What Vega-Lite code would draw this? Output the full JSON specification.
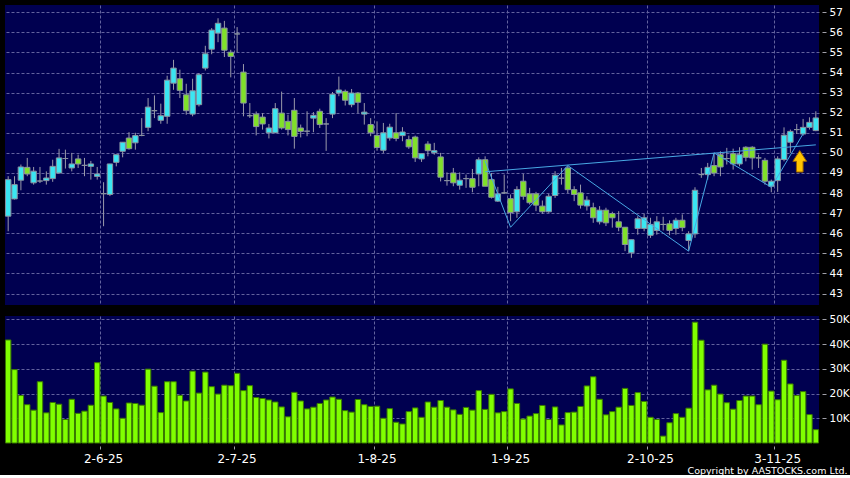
{
  "$schema": "https://vega.github.io/schema/vega-lite/v6.json",
  "background": "#000000",
  "padding": {"left": 4, "top": 5, "right": 0, "bottom": 0},
  "bounds": "flush",
  "spacing": 11,
  "config": {
    "view": {"fill": "#000050", "stroke": null},
    "axis": {
      "gridColor": "#62629e",
      "gridDash": [3, 2],
      "gridWidth": 1,
      "labelColor": "#ffffff",
      "labelFont": "DejaVu Sans",
      "tickColor": "#a0a0a8",
      "domain": false
    }
  },
  "datasets": {
    "ohlc": [
      {"d":"2025-05-12","o":46.85,"h":48.84,"l":46.1,"c":48.67,"v":41.7},
      {"d":"2025-05-13","o":47.71,"h":48.84,"l":47.68,"c":48.42,"v":29.7},
      {"d":"2025-05-14","o":48.64,"h":49.42,"l":48.14,"c":49.3,"v":19.2},
      {"d":"2025-05-15","o":49.28,"h":49.75,"l":48.84,"c":48.95,"v":15.5},
      {"d":"2025-05-16","o":48.51,"h":49.3,"l":48.42,"c":49.09,"v":13.3},
      {"d":"2025-05-19","o":48.6,"h":49.3,"l":48.5,"c":48.6,"v":24.8},
      {"d":"2025-05-20","o":48.62,"h":49.08,"l":48.42,"c":48.75,"v":12.2},
      {"d":"2025-05-21","o":48.72,"h":49.66,"l":48.56,"c":49.33,"v":16.4},
      {"d":"2025-05-22","o":49.0,"h":50.2,"l":48.98,"c":49.75,"v":15.7},
      {"d":"2025-05-23","o":49.72,"h":50.16,"l":49.22,"c":49.72,"v":9.5},
      {"d":"2025-05-26","o":49.25,"h":50.0,"l":49.08,"c":49.45,"v":17.7},
      {"d":"2025-05-27","o":49.7,"h":49.91,"l":49.25,"c":49.45,"v":12.0},
      {"d":"2025-05-28","o":49.38,"h":49.75,"l":48.84,"c":49.38,"v":12.9},
      {"d":"2025-05-29","o":49.33,"h":49.6,"l":48.67,"c":49.45,"v":15.3},
      {"d":"2025-05-30","o":48.83,"h":49.3,"l":48.67,"c":48.95,"v":32.5},
      {"d":"2025-06-02","o":47.97,"h":48.54,"l":46.35,"c":47.97,"v":19.0},
      {"d":"2025-06-03","o":47.93,"h":49.45,"l":47.85,"c":49.45,"v":16.4},
      {"d":"2025-06-04","o":49.53,"h":49.91,"l":49.33,"c":49.91,"v":13.8},
      {"d":"2025-06-05","o":50.08,"h":50.53,"l":49.78,"c":50.53,"v":10.0},
      {"d":"2025-06-06","o":50.74,"h":51.03,"l":50.16,"c":50.21,"v":16.2},
      {"d":"2025-06-09","o":50.5,"h":51.0,"l":50.16,"c":50.86,"v":16.0},
      {"d":"2025-06-10","o":50.87,"h":51.73,"l":50.83,"c":50.87,"v":15.3},
      {"d":"2025-06-11","o":51.27,"h":52.73,"l":51.08,"c":52.28,"v":29.9},
      {"d":"2025-06-12","o":52.1,"h":52.86,"l":51.73,"c":52.1,"v":23.0},
      {"d":"2025-06-13","o":51.62,"h":52.45,"l":51.45,"c":51.85,"v":12.3},
      {"d":"2025-06-16","o":51.82,"h":53.84,"l":51.45,"c":53.62,"v":24.8},
      {"d":"2025-06-17","o":53.47,"h":54.63,"l":53.14,"c":54.22,"v":24.8},
      {"d":"2025-06-18","o":53.69,"h":54.14,"l":52.73,"c":53.11,"v":19.3},
      {"d":"2025-06-19","o":52.89,"h":53.44,"l":51.9,"c":52.1,"v":17.0},
      {"d":"2025-06-20","o":51.93,"h":53.69,"l":51.82,"c":53.09,"v":29.1},
      {"d":"2025-06-23","o":52.4,"h":53.97,"l":52.31,"c":53.89,"v":20.2},
      {"d":"2025-06-24","o":54.22,"h":55.33,"l":54.1,"c":54.93,"v":28.7},
      {"d":"2025-06-25","o":55.16,"h":56.21,"l":54.91,"c":56.11,"v":22.8},
      {"d":"2025-06-26","o":55.96,"h":56.7,"l":55.51,"c":56.45,"v":19.8},
      {"d":"2025-06-27","o":56.21,"h":56.57,"l":54.77,"c":55.11,"v":23.4},
      {"d":"2025-06-30","o":55.01,"h":55.13,"l":53.76,"c":54.8,"v":23.2},
      {"d":"2025-07-02","o":55.92,"h":56.26,"l":55.01,"c":55.92,"v":28.2},
      {"d":"2025-07-03","o":54.02,"h":54.42,"l":51.82,"c":52.48,"v":21.2},
      {"d":"2025-07-04","o":51.85,"h":52.48,"l":51.74,"c":51.85,"v":23.2},
      {"d":"2025-07-07","o":51.93,"h":52.06,"l":50.87,"c":51.31,"v":18.4},
      {"d":"2025-07-08","o":51.78,"h":51.98,"l":51.16,"c":51.44,"v":18.0},
      {"d":"2025-07-09","o":51.0,"h":51.44,"l":50.72,"c":51.24,"v":17.4},
      {"d":"2025-07-10","o":51.0,"h":52.48,"l":51.0,"c":52.2,"v":16.6},
      {"d":"2025-07-11","o":51.98,"h":53.05,"l":51.16,"c":51.24,"v":14.6},
      {"d":"2025-07-14","o":51.57,"h":51.9,"l":50.87,"c":51.16,"v":10.6},
      {"d":"2025-07-15","o":52.12,"h":52.73,"l":50.21,"c":50.82,"v":20.5},
      {"d":"2025-07-16","o":51.24,"h":51.41,"l":50.77,"c":51.07,"v":17.0},
      {"d":"2025-07-17","o":51.08,"h":52.07,"l":50.83,"c":51.08,"v":13.8},
      {"d":"2025-07-18","o":51.73,"h":52.03,"l":51.03,"c":51.87,"v":14.5},
      {"d":"2025-07-21","o":52.07,"h":52.2,"l":51.24,"c":51.41,"v":16.0},
      {"d":"2025-07-22","o":51.44,"h":51.73,"l":50.1,"c":51.44,"v":17.4},
      {"d":"2025-07-23","o":51.93,"h":53.03,"l":51.73,"c":52.92,"v":18.6},
      {"d":"2025-07-24","o":52.98,"h":53.8,"l":52.82,"c":53.13,"v":17.7},
      {"d":"2025-07-25","o":53.06,"h":53.15,"l":52.36,"c":52.62,"v":13.1},
      {"d":"2025-07-28","o":52.4,"h":53.18,"l":52.27,"c":52.98,"v":12.5},
      {"d":"2025-07-29","o":52.98,"h":53.03,"l":51.98,"c":52.52,"v":17.6},
      {"d":"2025-07-30","o":51.93,"h":52.48,"l":51.41,"c":52.03,"v":15.5},
      {"d":"2025-07-31","o":51.41,"h":51.73,"l":50.83,"c":51.0,"v":14.8},
      {"d":"2025-08-01","o":50.87,"h":51.57,"l":50.11,"c":50.27,"v":14.9},
      {"d":"2025-08-04","o":50.13,"h":51.49,"l":50.0,"c":51.0,"v":10.0},
      {"d":"2025-08-05","o":50.74,"h":51.45,"l":50.61,"c":51.28,"v":13.9},
      {"d":"2025-08-06","o":51.0,"h":51.98,"l":50.58,"c":50.72,"v":8.4},
      {"d":"2025-08-07","o":50.86,"h":51.28,"l":50.58,"c":51.04,"v":7.7},
      {"d":"2025-08-08","o":50.66,"h":50.86,"l":50.2,"c":50.3,"v":12.7},
      {"d":"2025-08-11","o":50.79,"h":50.86,"l":49.55,"c":49.75,"v":14.2},
      {"d":"2025-08-12","o":49.7,"h":49.96,"l":49.55,"c":49.96,"v":10.4},
      {"d":"2025-08-13","o":50.44,"h":50.58,"l":49.83,"c":50.11,"v":16.6},
      {"d":"2025-08-14","o":50.01,"h":50.5,"l":49.91,"c":50.11,"v":14.5},
      {"d":"2025-08-15","o":49.8,"h":50.0,"l":48.58,"c":48.79,"v":17.2},
      {"d":"2025-08-18","o":48.62,"h":49.03,"l":48.37,"c":48.62,"v":14.5},
      {"d":"2025-08-19","o":49.0,"h":49.25,"l":48.34,"c":48.51,"v":13.4},
      {"d":"2025-08-20","o":48.39,"h":49.03,"l":48.17,"c":48.64,"v":11.6},
      {"d":"2025-08-21","o":48.72,"h":48.92,"l":48.26,"c":48.72,"v":14.4},
      {"d":"2025-08-22","o":48.72,"h":49.2,"l":48.04,"c":48.29,"v":13.3},
      {"d":"2025-08-25","o":48.95,"h":49.78,"l":48.34,"c":49.66,"v":21.2},
      {"d":"2025-08-26","o":49.66,"h":49.83,"l":48.34,"c":48.34,"v":13.6},
      {"d":"2025-08-27","o":48.67,"h":49.0,"l":47.73,"c":47.79,"v":19.7},
      {"d":"2025-08-28","o":47.6,"h":48.31,"l":47.56,"c":47.96,"v":12.2},
      {"d":"2025-08-29","o":48.01,"h":48.92,"l":47.96,"c":48.01,"v":12.7},
      {"d":"2025-09-01","o":47.72,"h":47.93,"l":46.6,"c":47.03,"v":21.9},
      {"d":"2025-09-02","o":47.07,"h":48.34,"l":46.77,"c":48.18,"v":16.0},
      {"d":"2025-09-03","o":48.59,"h":48.95,"l":47.67,"c":47.84,"v":9.7},
      {"d":"2025-09-04","o":47.96,"h":48.26,"l":47.43,"c":47.52,"v":10.9},
      {"d":"2025-09-05","o":47.96,"h":48.06,"l":47.1,"c":47.4,"v":11.9},
      {"d":"2025-09-08","o":47.35,"h":47.63,"l":46.97,"c":47.07,"v":15.2},
      {"d":"2025-09-09","o":47.07,"h":47.96,"l":47.02,"c":47.84,"v":9.5},
      {"d":"2025-09-10","o":47.88,"h":49.09,"l":47.76,"c":48.89,"v":14.6},
      {"d":"2025-09-11","o":48.74,"h":49.25,"l":48.42,"c":48.74,"v":7.3},
      {"d":"2025-09-12","o":49.25,"h":49.37,"l":48.0,"c":48.17,"v":12.3},
      {"d":"2025-09-15","o":48.17,"h":48.34,"l":47.6,"c":47.93,"v":12.5},
      {"d":"2025-09-16","o":48.01,"h":48.42,"l":47.23,"c":47.4,"v":14.8},
      {"d":"2025-09-17","o":47.36,"h":47.84,"l":47.13,"c":47.65,"v":23.1},
      {"d":"2025-09-18","o":47.27,"h":47.52,"l":46.52,"c":46.77,"v":26.8},
      {"d":"2025-09-19","o":46.57,"h":47.35,"l":46.44,"c":47.15,"v":17.7},
      {"d":"2025-09-22","o":47.15,"h":47.27,"l":46.36,"c":46.52,"v":11.4},
      {"d":"2025-09-23","o":46.98,"h":47.07,"l":46.28,"c":46.77,"v":12.7},
      {"d":"2025-09-24","o":46.57,"h":47.1,"l":46.1,"c":46.3,"v":14.5},
      {"d":"2025-09-25","o":46.3,"h":46.3,"l":45.11,"c":45.44,"v":22.1},
      {"d":"2025-09-26","o":45.03,"h":45.68,"l":44.78,"c":45.68,"v":15.2},
      {"d":"2025-09-29","o":46.24,"h":46.85,"l":45.93,"c":46.72,"v":20.4},
      {"d":"2025-09-30","o":46.24,"h":46.97,"l":46.1,"c":46.77,"v":16.8},
      {"d":"2025-10-02","o":45.9,"h":46.77,"l":45.77,"c":46.44,"v":10.4},
      {"d":"2025-10-03","o":46.14,"h":46.85,"l":45.93,"c":46.57,"v":9.5},
      {"d":"2025-10-06","o":46.44,"h":46.82,"l":46.14,"c":46.44,"v":2.8},
      {"d":"2025-10-08","o":46.47,"h":46.64,"l":45.9,"c":46.14,"v":8.2},
      {"d":"2025-10-09","o":46.24,"h":46.77,"l":45.93,"c":46.65,"v":11.9},
      {"d":"2025-10-10","o":46.65,"h":46.94,"l":46.1,"c":46.28,"v":10.4},
      {"d":"2025-10-13","o":45.64,"h":46.1,"l":45.14,"c":45.97,"v":14.1},
      {"d":"2025-10-14","o":45.97,"h":48.29,"l":45.77,"c":48.14,"v":48.9},
      {"d":"2025-10-15","o":48.92,"h":49.25,"l":48.76,"c":48.92,"v":41.6},
      {"d":"2025-10-16","o":48.92,"h":49.5,"l":48.67,"c":49.28,"v":21.5},
      {"d":"2025-10-17","o":49.37,"h":50.0,"l":48.84,"c":49.0,"v":23.4},
      {"d":"2025-10-20","o":49.91,"h":50.08,"l":48.84,"c":49.3,"v":19.8},
      {"d":"2025-10-21","o":49.72,"h":50.25,"l":49.42,"c":49.72,"v":16.3},
      {"d":"2025-10-22","o":49.96,"h":50.21,"l":49.17,"c":49.45,"v":13.7},
      {"d":"2025-10-23","o":49.45,"h":50.28,"l":49.33,"c":49.91,"v":17.2},
      {"d":"2025-10-24","o":50.28,"h":50.33,"l":49.58,"c":49.78,"v":19.0},
      {"d":"2025-10-27","o":50.28,"h":50.33,"l":49.17,"c":49.75,"v":19.0},
      {"d":"2025-10-28","o":49.75,"h":49.91,"l":49.25,"c":49.75,"v":15.5},
      {"d":"2025-10-30","o":49.63,"h":49.75,"l":48.42,"c":48.59,"v":40.0},
      {"d":"2025-10-31","o":48.34,"h":48.67,"l":48.04,"c":48.59,"v":21.0},
      {"d":"2025-11-03","o":48.62,"h":49.83,"l":48.06,"c":49.7,"v":17.5},
      {"d":"2025-11-04","o":49.67,"h":51.27,"l":49.58,"c":50.88,"v":33.5},
      {"d":"2025-11-05","o":50.53,"h":51.16,"l":50.0,"c":51.07,"v":23.9},
      {"d":"2025-11-06","o":51.16,"h":51.44,"l":50.94,"c":51.16,"v":19.2},
      {"d":"2025-11-07","o":50.94,"h":51.69,"l":50.86,"c":51.27,"v":20.8},
      {"d":"2025-11-10","o":51.27,"h":51.77,"l":51.16,"c":51.52,"v":11.5},
      {"d":"2025-11-11","o":51.11,"h":52.07,"l":51.08,"c":51.74,"v":5.4}
    ],
    "lines": [
      {"seg":"neck","d":"2025-08-26","p":49.06},
      {"seg":"neck","d":"2025-11-11","p":50.4},
      {"seg":"zig","d":"2025-08-26","p":49.6},
      {"seg":"zig","d":"2025-09-01","p":46.3},
      {"seg":"zig","d":"2025-09-12","p":49.37},
      {"seg":"zig","d":"2025-10-13","p":45.11},
      {"seg":"zig","d":"2025-10-17","p":50.0},
      {"seg":"zig","d":"2025-10-31","p":48.29},
      {"seg":"zig","d":"2025-11-07","p":50.95}
    ],
    "arrow": [
      {"d":"2025-11-06","p":49.58}
    ]
  },
  "vconcat": [
    {
      "width": 814,
      "height": 300,
      "encoding": {
        "x": {
          "field": "d", "type": "ordinal",
          "scale": {"paddingInner": 0.15, "paddingOuter": 0.075},
          "axis": {
            "values": ["2025-06-02","2025-07-02","2025-08-01","2025-09-01","2025-10-02","2025-11-03"],
            "bandPosition": 0, "grid": true, "labels": false, "ticks": false, "title": null
          }
        }
      },
      "layer": [
        {
          "data": {"name": "ohlc"},
          "mark": {"type": "rule", "color": "#9a9aaa", "strokeWidth": 1},
          "encoding": {
            "y": {
              "field": "l", "type": "quantitative", "title": null,
              "scale": {"domain": [42.43, 57.36], "nice": false, "zero": false},
              "axis": {
                "orient": "right", "values": [43,44,45,46,47,48,49,50,51,52,53,54,55,56,57],
                "labelOverlap": false, "labelSeparation": 0,
                "grid": true, "tickSize": 4, "offset": 3, "labelPadding": 3, "labelFontSize": 10.5, "title": null
              }
            },
            "y2": {"field": "h"}
          }
        },
        {
          "data": {"name": "ohlc"},
          "mark": {"type": "bar", "stroke": "#8a93a0", "strokeWidth": 1},
          "encoding": {
            "y": {
              "field": "o", "type": "quantitative", "title": null,
              "axis": {
                "orient": "right", "values": [43,44,45,46,47,48,49,50,51,52,53,54,55,56,57],
                "labelOverlap": false, "labelSeparation": 0,
                "grid": true, "tickSize": 4, "offset": 3, "labelPadding": 3, "labelFontSize": 10.5, "title": null
              }
            },
            "y2": {"field": "c"},
            "color": {
              "condition": [
                {"test": "datum.c > datum.o", "value": "#3ae6f2"},
                {"test": "datum.c < datum.o", "value": "#80e02a"}
              ],
              "value": "#a0a8b4"
            }
          }
        },
        {
          "data": {"name": "lines"},
          "mark": {"type": "line", "color": "#48a8e4", "strokeWidth": 1},
          "encoding": {
            "y": {
              "field": "p", "type": "quantitative", "title": null,
              "axis": {
                "orient": "right", "values": [43,44,45,46,47,48,49,50,51,52,53,54,55,56,57],
                "labelOverlap": false, "labelSeparation": 0,
                "grid": true, "tickSize": 4, "offset": 3, "labelPadding": 3, "labelFontSize": 10.5, "title": null
              }
            },
            "detail": {"field": "seg"}
          }
        },
        {
          "data": {"name": "arrow"},
          "mark": {
            "type": "point",
            "shape": "M0,-1L0.64,0L0.31,0L0.31,1L-0.31,1L-0.31,0L-0.64,0Z",
            "size": 460, "filled": true, "fill": "#ffc400", "stroke": "#9a6200",
            "strokeWidth": 1, "opacity": 1, "xOffset": 3
          },
          "encoding": {
            "y": {
              "field": "p", "type": "quantitative", "title": null,
              "axis": {
                "orient": "right", "values": [43,44,45,46,47,48,49,50,51,52,53,54,55,56,57],
                "labelOverlap": false, "labelSeparation": 0,
                "grid": true, "tickSize": 4, "offset": 3, "labelPadding": 3, "labelFontSize": 10.5, "title": null
              }
            }
          }
        }
      ]
    },
    {
      "width": 814,
      "height": 127,
      "data": {"name": "ohlc"},
      "mark": {"type": "bar", "color": "#80ff00", "stroke": "#3a7a00", "strokeWidth": 1},
      "encoding": {
        "x": {
          "field": "d", "type": "ordinal",
          "scale": {"paddingInner": 0.15, "paddingOuter": 0.075},
          "axis": {
            "values": ["2025-06-02","2025-07-02","2025-08-01","2025-09-01","2025-10-02","2025-11-03"],
            "labelExpr": "toNumber(substring(datum.value,8,10)) + '-' + toNumber(substring(datum.value,5,7)) + '-' + substring(datum.value,2,4)",
            "bandPosition": 0, "grid": true, "labelAngle": 0, "labelFontSize": 12,
            "tickSize": 3, "offset": 3, "labelPadding": 4,
            "title": "Copyright by AASTOCKS.com Ltd.",
            "titleFont": "DejaVu Sans", "titleFontSize": 9.5, "titleFontWeight": "normal",
            "titleColor": "#ffffff", "titleAnchor": "end", "titleAlign": "right",
            "titleBaseline": "alphabetic", "titleX": 842, "titleY": 27
          }
        },
        "y": {
          "field": "v", "type": "quantitative",
          "scale": {"domain": [0, 51.4], "nice": false},
          "axis": {
            "orient": "right", "values": [10,20,30,40,50],
            "labelExpr": "datum.value + 'K'", "labelOverlap": false,
            "grid": true, "tickSize": 4, "offset": 3, "labelPadding": 3, "labelFontSize": 10.5, "title": null
          }
        }
      }
    }
  ]
}
